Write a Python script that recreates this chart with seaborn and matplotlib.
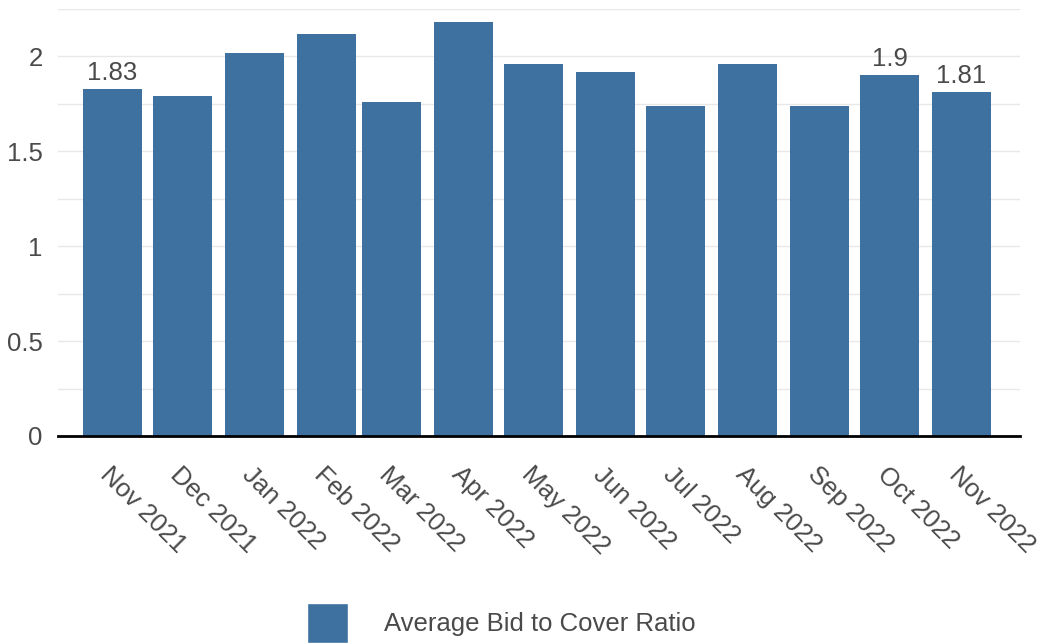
import pandas as pd
import matplotlib.pyplot as plt
import seaborn as sns
from matplotlib.patches import Patch
from matplotlib.ticker import MultipleLocator

# Data
months = ['2021-11-01', '2021-12-01', '2022-01-01', '2022-02-01', '2022-03-01',
          '2022-04-01', '2022-05-01', '2022-06-01', '2022-07-01', '2022-08-01',
          '2022-09-01', '2022-10-01', '2022-11-01']
labels = ['Nov 2021', 'Dec 2021', 'Jan 2022', 'Feb 2022', 'Mar 2022', 'Apr 2022',
          'May 2022', 'Jun 2022', 'Jul 2022', 'Aug 2022', 'Sep 2022', 'Oct 2022',
          'Nov 2022']
ratio = [1.83, 1.79, 2.02, 2.12, 1.76, 2.18, 1.96, 1.92, 1.74, 1.96, 1.74, 1.9, 1.81]
yticks = [0, 0.5, 1, 1.5, 2]
shown = [0, 11, 12]  # bars that carry a value label

dates = pd.to_datetime(pd.Series(months))
df = pd.DataFrame({'day': (dates - dates[0]).dt.days, 'ratio': ratio})

sns.set_style('white')
plt.rcParams['font.family'] = ['Liberation Sans', 'DejaVu Sans']
bar_color = '#3e70a0'
text_color = '#4a4a4a'

fig = plt.figure(figsize=(10.47, 6.43), dpi=100)
ax = fig.add_axes([0.0554, 0.322, 0.9186, 0.664])

sns.barplot(data=df, x='day', y='ratio', native_scale=True, width=0.9,
            color=bar_color, saturation=1, linewidth=0, ax=ax, zorder=2)

ax.set_yticks(yticks)
ax.set_yticklabels([f'{v:g}' for v in yticks])
ax.yaxis.set_minor_locator(MultipleLocator(0.25))
ax.grid(axis='y', which='both', color='#e8e8e8', linewidth=1, zorder=0)
ax.grid(axis='x', visible=False)
ax.set_xlim(-23.4, 390)
ax.set_ylim(0, 2.25)

ax.set_xticks(df['day'])
ax.set_xticklabels(labels, rotation=-45, ha='left', va='top',
                   rotation_mode='anchor')
ax.tick_params(axis='both', which='both', length=0, labelsize=18.5,
               labelcolor=text_color)
ax.tick_params(axis='x', pad=19)
ax.tick_params(axis='y', pad=11)
ax.set_xlabel('')
ax.set_ylabel('')

for s in ['top', 'right', 'left']:
    ax.spines[s].set_visible(False)
ax.spines['bottom'].set_color('black')
ax.spines['bottom'].set_linewidth(2)
ax.spines['bottom'].set_zorder(3)

for i in shown:
    ax.annotate(f'{ratio[i]:g}', (df['day'][i], ratio[i]), xytext=(0, 3),
                textcoords='offset points', ha='center', va='bottom',
                fontsize=18.5, color=text_color)

fig.legend(handles=[Patch(facecolor=bar_color, label='Average Bid to Cover Ratio')],
           loc='lower center', bbox_to_anchor=(0.479, 0.0), frameon=False,
           fontsize=18.5, handlelength=1.6, handleheight=2.0,
           handletextpad=1.4, borderpad=0, borderaxespad=0,
           labelcolor=text_color)

fig.savefig('out.png', dpi=100)
